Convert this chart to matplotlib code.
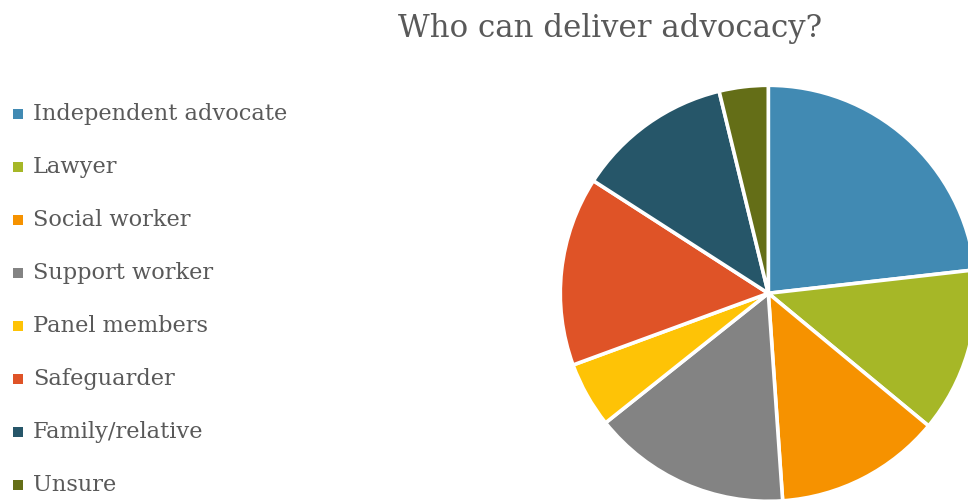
import matplotlib
matplotlib.use("Agg")
import matplotlib.pyplot as plt
from matplotlib.patches import Rectangle

# Share of responses by who can deliver advocacy (%)
categories = ["Independent advocate", "Lawyer", "Social worker", "Support worker",
              "Panel members", "Safeguarder", "Family/relative", "Unsure"]
shares = [23.2, 12.8, 12.9, 15.4, 5.1, 14.7, 12.1, 3.8]
colors = ["#418AB3", "#A6B727", "#F69200", "#838383",
          "#FEC306", "#DF5327", "#265669", "#646E17"]
title = "Who can deliver advocacy?"

W, H = 968, 501
fig = plt.figure(figsize=(W / 100, H / 100), dpi=100)
ax = fig.add_axes([0, 0, 1, 1])

ax.pie(shares, colors=colors, startangle=90, counterclock=False,
       center=(768.3, H - 293.3), radius=208,
       wedgeprops=dict(edgecolor="white", linewidth=2.6))
ax.set_xlim(0, W)
ax.set_ylim(0, H)
ax.set_aspect("equal")
ax.axis("off")

text_color = "#595959"
font = "DejaVu Serif"

ax.text(610, H - 28, title, ha="center", va="center",
        fontsize=22.2, color=text_color, family=font)

# Legend on the left
y0, step = 114, 53.0
for i, (lab, col) in enumerate(zip(categories, colors)):
    yc = H - (y0 + i * step)
    ax.add_patch(Rectangle((13, yc - 5), 10, 10, facecolor=col, edgecolor="none"))
    ax.text(33, yc, lab, ha="left", va="center", fontsize=16.2,
            color=text_color, family=font)

fig.savefig("out.png", dpi=100)
